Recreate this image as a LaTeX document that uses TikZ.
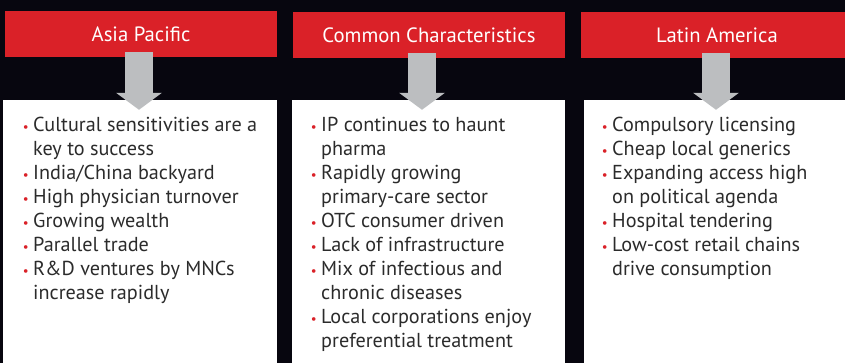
\documentclass[tikz,border=0pt]{standalone}
\usepackage{fontspec}
\setmainfont{PT Sans}
\usepackage{tikz}
\usetikzlibrary{arrows.meta}
\definecolor{pagebg}{HTML}{07060F}
\definecolor{headred}{HTML}{DA2128}
\definecolor{arrowgray}{HTML}{BCBEC0}
\definecolor{bodytext}{HTML}{2B2B2B}
\newcommand{\blt}{\llap{\textcolor{headred}{\fontsize{13}{13}\selectfont\textbullet}\hspace{4.5pt}}}
\tikzstyle{header} = [rectangle, minimum width=272pt, minimum height=46pt, inner sep=0pt, fill=headred, text=white, font=\fontsize{20.7}{24}\selectfont]
\tikzstyle{panel} = [rectangle, minimum height=270pt, inner sep=0pt, fill=white]
\tikzstyle{points} = [anchor=north west, inner sep=0pt, align=left, text=bodytext, font=\fontsize{20.2}{23.9}\selectfont]
\tikzstyle{arrow} = [arrowgray, line width=28pt, -{Triangle[width=45pt,length=17pt]}]

\begin{document}
\begin{tikzpicture}[x=1pt, y=-1pt]
	\fill[pagebg] (0,0) rectangle (845,363);
	\useasboundingbox (0,0) rectangle (845,363);
	\clip (0,0) rectangle (845,363);
	
	\node (asia) [header] at (141,34) {Asia Pacific};
	\node (common) [header] at (429,35) {Common Characteristics};
	\node (latin) [header] at (717,35) {Latin America};
	
	\node (asiabox) [panel, minimum width=274pt] at (140,235) {};
	\node (commonbox) [panel, minimum width=273pt] at (428.5,235) {};
	\node (latinbox) [panel, minimum width=266pt] at (717,235) {};
	
	\draw [arrow] ([yshift=5pt, xshift=-2pt]asia.south) -- ([yshift=-10pt, xshift=-1pt]asiabox.north);
	\draw [arrow] ([yshift=5pt, xshift=-7pt]common.south) -- ([yshift=-10pt, xshift=-6.5pt]commonbox.north);
	\draw [arrow] ([yshift=5pt, xshift=-1pt]latin.south) -- ([yshift=-10pt, xshift=-1pt]latinbox.north);
	
	% first baseline at y=131.7, strut height 0.7*23.9
	\node (asialist) [points] at (33,115) {\strut\blt Cultural sensitivities are a\\ key to success\\ \blt India/China backyard\\ \blt High physician turnover\\ \blt Growing wealth\\ \blt Parallel trade\\ \blt R\&D ventures by MNCs\\ increase rapidly};
	\node (commonlist) [points] at (321,115) {\strut\blt IP continues to haunt\\ pharma\\ \blt Rapidly growing\\ primary-care sector\\ \blt OTC consumer driven\\ \blt Lack of infrastructure\\ \blt Mix of infectious and\\ chronic diseases\\ \blt Local corporations enjoy\\ preferential treatment};
	\node (latinlist) [points] at (612,115) {\strut\blt Compulsory licensing\\ \blt Cheap local generics\\ \blt Expanding access high\\ on political agenda\\ \blt Hospital tendering\\ \blt Low-cost retail chains\\ drive consumption};
	
\end{tikzpicture}
\end{document}
